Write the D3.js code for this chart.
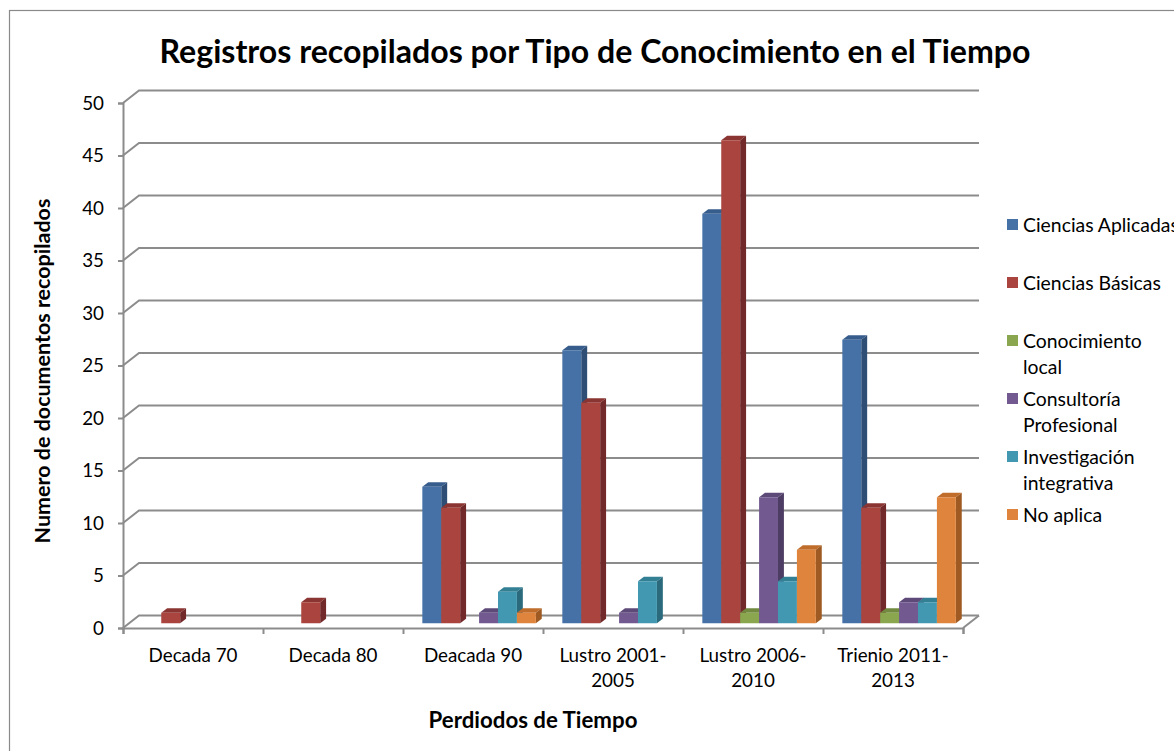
<!DOCTYPE html>
<html>
<head>
<meta charset="utf-8">
<script src="https://cdn.jsdelivr.net/npm/d3@7"></script>
<style>
  html, body { margin: 0; padding: 0; background: #fff; overflow: hidden; }
</style>
</head>
<body>
<svg id="chart" width="1174" height="751"></svg>
<script>
// --- data ---
const categories = [["Decada 70"], ["Decada 80"], ["Deacada 90"], ["Lustro 2001-", "2005"], ["Lustro 2006-", "2010"], ["Trienio 2011-", "2013"]];
const seriesNames = ["Ciencias Aplicadas", "Ciencias Básicas", "Conocimiento local", "Consultoría Profesional", "Investigación integrativa", "No aplica"];
const legendLines = [["Ciencias Aplicadas"], ["Ciencias Básicas"], ["Conocimiento", "local"], ["Consultoría", "Profesional"], ["Investigación", "integrativa"], ["No aplica"]];
const cienciasAplicadas = [0, 0, 13, 26, 39, 27];
const cienciasBasicas = [1, 2, 11, 21, 46, 11];
const conocimientoLocal = [0, 0, 0, 0, 1, 1];
const consultoriaProfesional = [0, 0, 1, 1, 12, 2];
const investigacionIntegrativa = [0, 0, 3, 4, 4, 2];
const noAplica = [0, 0, 1, 0, 7, 12];
const yTicks = [0, 5, 10, 15, 20, 25, 30, 35, 40, 45, 50];

const seriesValues = [cienciasAplicadas, cienciasBasicas, conocimientoLocal, consultoriaProfesional, investigacionIntegrativa, noAplica];
// front / side / top shades
const colors = [
  { front: "#4571a6", side: "#2e4e76", top: "#375d8c" },
  { front: "#a9443f", side: "#71292a", top: "#8a3532" },
  { front: "#8aa64f", side: "#5e7434", top: "#718a3f" },
  { front: "#725a91", side: "#4d3d64", top: "#5e4a79" },
  { front: "#4198b0", side: "#2a6a7c", top: "#337f94" },
  { front: "#df843c", side: "#9e5a22", top: "#c06d2c" }
];

const FONT = "Lato, 'Liberation Sans', sans-serif";
const svg = d3.select("#chart");

function fitSize(txt, weight, target) {
  const t = svg.append("text").attr("font-family", FONT).attr("font-weight", weight)
    .attr("font-size", 100).text(txt);
  const w = t.node().getComputedTextLength();
  t.remove();
  return 100 * target / w;
}

// outer border
svg.append("rect")
  .attr("x", 9.5).attr("y", 10.5).attr("width", 1300).attr("height", 900)
  .attr("fill", "none").attr("stroke", "#8a8a8a").attr("stroke-width", 1.2);

// --- 3D geometry ---
const depthX = 16, depthY = -12.5;       // full floor depth
const barF0 = 0.38, barDepth = 0.37;     // bar plane position/depth as fraction of floor depth
const left = 123, right = 963;

const x0 = d3.scaleBand().domain(d3.range(categories.length)).range([left, right]).padding(0);
const x1 = d3.scaleBand().domain(d3.range(seriesNames.length))
  .range([13.25, x0.bandwidth() - 13.25]).padding(0);
const y = d3.scaleLinear().domain([0, 50]).range([628, 103]);

const gridColor = "#8c8c8c";

// back wall gridlines with left-wall diagonal
const grid = svg.append("g");
yTicks.forEach(t => {
  const yf = y(t);
  grid.append("path")
    .attr("d", `M${left},${yf}L${left + depthX},${yf + depthY}L${right + depthX},${yf + depthY}`)
    .attr("fill", "none").attr("stroke", gridColor).attr("stroke-width", 2);
});
// floor right edge
grid.append("path")
  .attr("d", `M${right},${y(0)}L${right + depthX},${y(0) + depthY}`)
  .attr("fill", "none").attr("stroke", gridColor).attr("stroke-width", 2);

// y axis (front)
const yAxis = svg.append("g")
  .attr("transform", `translate(${left},0)`)
  .call(d3.axisLeft(y).tickValues(yTicks).tickSize(5).tickPadding(14).tickFormat(d3.format("d")));
yAxis.select(".domain").attr("stroke", gridColor).attr("stroke-width", 2);
yAxis.selectAll(".tick line").attr("stroke", gridColor).attr("stroke-width", 2);

// x axis (front)
const xAxis = svg.append("g")
  .attr("transform", `translate(0,${y(0)})`)
  .call(d3.axisBottom(d3.scaleLinear().domain([0, categories.length]).range([left, right]))
    .tickValues(d3.range(categories.length + 1)).tickSize(6).tickFormat(""));
xAxis.select(".domain").attr("stroke", gridColor).attr("stroke-width", 2);
xAxis.selectAll(".tick line").attr("stroke", gridColor).attr("stroke-width", 2);

const labelSize = fitSize("Decada 70", 400, 89);
yAxis.selectAll(".tick text")
  .attr("font-family", FONT).attr("font-size", labelSize).attr("fill", "#000");

// category labels
categories.forEach((lines, i) => {
  const t = svg.append("text")
    .attr("x", x0(i) + x0.bandwidth() / 2).attr("y", 662)
    .attr("text-anchor", "middle")
    .attr("font-family", FONT).attr("font-size", labelSize).attr("fill", "#000");
  lines.forEach((ln, k) => {
    t.append("tspan").attr("x", x0(i) + x0.bandwidth() / 2).attr("dy", k === 0 ? 0 : 25).text(ln);
  });
});

// bars
const bdx = depthX * barDepth, bdy = depthY * barDepth;
const offX = depthX * barF0, offY = depthY * barF0;
const bars = svg.append("g");
categories.forEach((c, i) => {
  seriesValues.forEach((vals, s) => {
    const v = vals[i];
    if (!(v > 0)) return;
    const xa = x0(i) + x1(s) + offX;
    const w = x1.bandwidth();
    const yb = y(0) + offY;
    const yt = y(v) + offY;
    const col = colors[s];
    bars.append("path")
      .attr("d", `M${xa},${yt}L${xa + bdx},${yt + bdy}L${xa + w + bdx},${yt + bdy}L${xa + w},${yt}Z`)
      .attr("fill", col.top);
    bars.append("path")
      .attr("d", `M${xa + w},${yt}L${xa + w + bdx},${yt + bdy}L${xa + w + bdx},${yb + bdy}L${xa + w},${yb}Z`)
      .attr("fill", col.side);
    bars.append("rect")
      .attr("x", xa).attr("y", yt).attr("width", w).attr("height", yb - yt)
      .attr("fill", col.front);
  });
});

// title
const titleTxt = "Registros recopilados por Tipo de Conocimiento en el Tiempo";
svg.append("text")
  .attr("x", 595).attr("y", 63).attr("text-anchor", "middle")
  .attr("font-family", FONT).attr("font-weight", 700)
  .attr("font-size", fitSize(titleTxt, 700, 871))
  .attr("fill", "#000").text(titleTxt);

// axis titles
const yTitle = "Numero de documentos recopilados";
svg.append("text")
  .attr("transform", "translate(50,371) rotate(-90)")
  .attr("text-anchor", "middle")
  .attr("font-family", FONT).attr("font-weight", 700)
  .attr("font-size", fitSize(yTitle, 700, 345))
  .attr("fill", "#000").text(yTitle);

const xTitle = "Perdiodos de Tiempo";
svg.append("text")
  .attr("x", 533).attr("y", 728).attr("text-anchor", "middle")
  .attr("font-family", FONT).attr("font-weight", 700)
  .attr("font-size", fitSize(xTitle, 700, 209))
  .attr("fill", "#000").text(xTitle);

// legend
const legSize = fitSize("Ciencias Básicas", 400, 138);
const legend = svg.append("g");
legendLines.forEach((lines, i) => {
  const base = 232 + i * 58;
  legend.append("rect")
    .attr("x", 1007).attr("y", base - 13).attr("width", 11).attr("height", 11)
    .attr("fill", colors[i].front);
  const t = legend.append("text")
    .attr("x", 1023).attr("y", base)
    .attr("font-family", FONT).attr("font-size", legSize).attr("fill", "#000");
  lines.forEach((ln, k) => {
    t.append("tspan").attr("x", 1023).attr("dy", k === 0 ? 0 : 26).text(ln);
  });
});
</script>
</body>
</html>
